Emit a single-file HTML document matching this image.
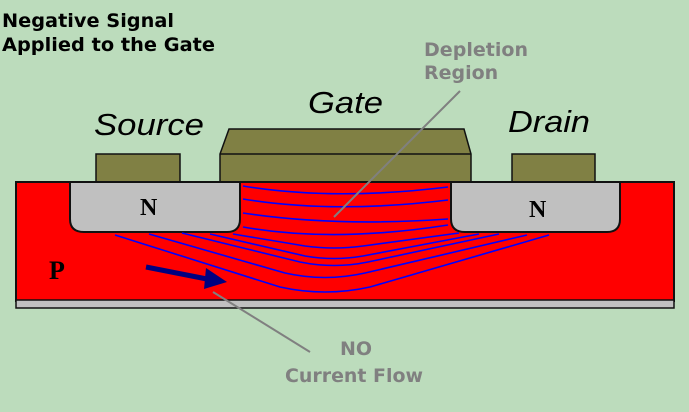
<!DOCTYPE html>
<html><head><style>
html,body{margin:0;padding:0;background:#bcdcbc;}
svg{display:block}
</style></head><body>
<svg width="689" height="412" viewBox="0 0 689 412" xmlns="http://www.w3.org/2000/svg">
<rect width="689" height="412" fill="#bcdcbc"/>
<text x="2" y="27" font-family="DejaVu Sans" font-weight="bold" font-size="19" fill="#000" textLength="172" lengthAdjust="spacingAndGlyphs">Negative Signal</text>
<text x="2" y="51" font-family="DejaVu Sans" font-weight="bold" font-size="19" fill="#000" textLength="213" lengthAdjust="spacingAndGlyphs">Applied to the Gate</text>
<text x="424" y="56" font-family="DejaVu Sans" font-weight="bold" font-size="19" fill="#808080" textLength="104" lengthAdjust="spacingAndGlyphs">Depletion</text>
<text x="424" y="79" font-family="DejaVu Sans" font-weight="bold" font-size="19" fill="#808080">Region</text>
<text x="94" y="135" font-family="Liberation Sans" font-style="italic" font-size="31" fill="#000" textLength="110" lengthAdjust="spacingAndGlyphs">Source</text>
<text x="308" y="113" font-family="Liberation Sans" font-style="italic" font-size="31" fill="#000" textLength="75" lengthAdjust="spacingAndGlyphs">Gate</text>
<text x="508" y="132" font-family="Liberation Sans" font-style="italic" font-size="31" fill="#000" textLength="82" lengthAdjust="spacingAndGlyphs">Drain</text>
<rect x="96" y="154" width="84" height="28" fill="#808044" stroke="#111" stroke-width="1.5"/>
<rect x="512" y="154" width="83" height="28" fill="#808044" stroke="#111" stroke-width="1.5"/>
<polygon points="220,154 229,129 464,129 471,154 471,182 220,182" fill="#808044" stroke="#111" stroke-width="1.5"/>
<line x1="220" y1="154" x2="471" y2="154" stroke="#111" stroke-width="1.5"/>
<rect x="16" y="182" width="658" height="119" fill="#ff0000" stroke="#111" stroke-width="2"/>
<rect x="16" y="300" width="658" height="8" fill="#c0c0c0" stroke="#111" stroke-width="1.5"/>
<path d="M70,182 V219 Q70,232 84,232 H227 Q240,232 240,219 V182 Z" fill="#c0c0c0" stroke="#111" stroke-width="2"/>
<path d="M451,182 V219 Q451,232 465,232 H607 Q620,232 620,219 V182 Z" fill="#c0c0c0" stroke="#111" stroke-width="2"/>
<text x="140" y="215" font-family="Liberation Serif" font-weight="bold" font-size="24" fill="#000">N</text>
<text x="529" y="217" font-family="Liberation Serif" font-weight="bold" font-size="24" fill="#000">N</text>
<text x="49" y="279" font-family="Liberation Serif" font-weight="bold" font-size="26" fill="#000">P</text>
<g fill="none" stroke="#0000ff" stroke-width="1.6">
<path d="M243,186 Q334,201 448,187"/>
<path d="M243,199 Q334,214 448,200"/>
<path d="M243,213 Q334,227 448,219"/>
<path d="M243,227 Q334,243 448,225"/>
<path d="M233,234 L305,246 Q334,250 363,246 L459,233"/>
<path d="M210,234 L305,256 Q334,261 363,256 L479,234"/>
<path d="M182,233 L300,262 Q334,269 368,262 L499,234"/>
<path d="M149,234 L285,273 Q325,282 365,273 L527,235"/>
<path d="M115,235 L280,287 Q325,297 370,287 L549,235"/>
</g>
<line x1="146" y1="267" x2="212" y2="280" stroke="#000080" stroke-width="5"/>
<polygon points="206,268 227,282 204,289" fill="#000080"/>
<line x1="460" y1="91" x2="334" y2="217" stroke="#808080" stroke-width="2"/>
<line x1="213" y1="292" x2="310" y2="352" stroke="#808080" stroke-width="2"/>
<text x="356" y="355" text-anchor="middle" font-family="DejaVu Sans" font-weight="bold" font-size="19" fill="#808080">NO</text>
<text x="354" y="382" text-anchor="middle" font-family="DejaVu Sans" font-weight="bold" font-size="19" fill="#808080" textLength="138" lengthAdjust="spacingAndGlyphs">Current Flow</text>
</svg>
</body></html>
